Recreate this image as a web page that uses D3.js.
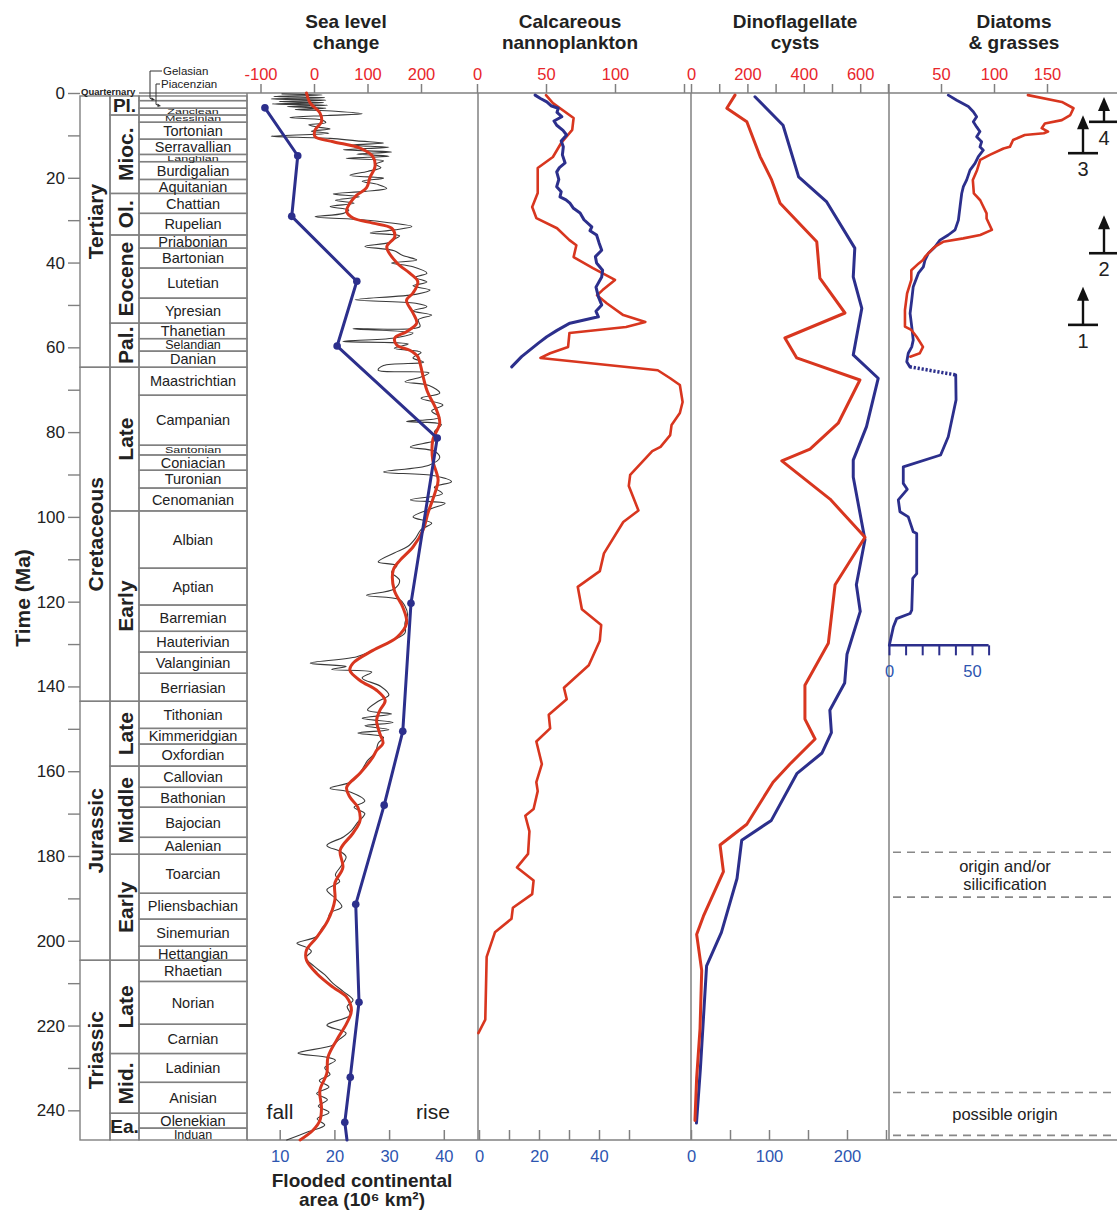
<!DOCTYPE html>
<html>
<head>
<meta charset="utf-8">
<script src="https://cdn.jsdelivr.net/npm/d3@7"></script>
<style>
body { margin: 0; background: #fff; }
svg text { font-family: "Liberation Sans", Arial, Helvetica, sans-serif; }
</style>
</head>
<body>
<script>
// ---------- data (age in Ma) ----------
const timeMajor = [0, 20, 40, 60, 80, 100, 120, 140, 160, 180, 200, 220, 240];
const timeMinor = [10, 30, 50, 70, 90, 110, 130, 150, 170, 190, 210, 230];

const eras = [["Tertiary", 0.7, 64.7], ["Cretaceous", 64.7, 143.5], ["Jurassic", 143.5, 204.6], ["Triassic", 204.6, 247]];

const epochs = [["Pl.", 0.7, 5.2], ["Mioc.", 5.2, 23.7], ["Ol.", 23.7, 33.5], ["Eocene", 33.5, 54.3],
  ["Pal.", 54.3, 64.7], ["Late", 64.7, 98.6], ["Early", 98.6, 143.5], ["Late", 143.5, 158.8],
  ["Middle", 158.8, 179.6], ["Early", 179.6, 204.6], ["Late", 204.6, 226.6], ["Mid.", 226.6, 240.7], ["Ea.", 240.7, 247]];

const leaderStages = [["Gelasian", 0.7, 1.8], ["Piacenzian", 1.8, 3.6]];

const stages = [["Zanclean", 3.6, 5.2], ["Messinian", 5.2, 6.9], ["Tortonian", 6.9, 10.9], ["Serravallian", 10.9, 14.5],
  ["Langhian", 14.5, 16.2], ["Burdigalian", 16.2, 20.4], ["Aquitanian", 20.4, 23.7], ["Chattian", 23.7, 28.4],
  ["Rupelian", 28.4, 33.5], ["Priabonian", 33.5, 36.6], ["Bartonian", 36.6, 41.3], ["Lutetian", 41.3, 48.4],
  ["Ypresian", 48.4, 54.3], ["Thanetian", 54.3, 57.95], ["Selandian", 57.95, 60.9], ["Danian", 60.9, 64.7],
  ["Maastrichtian", 64.7, 71.3], ["Campanian", 71.3, 83.1], ["Santonian", 83.1, 85.4], ["Coniacian", 85.4, 89.0],
  ["Turonian", 89.0, 93.2], ["Cenomanian", 93.2, 98.6], ["Albian", 98.6, 112.1], ["Aptian", 112.1, 120.8],
  ["Barremian", 120.8, 127.0], ["Hauterivian", 127.0, 131.9], ["Valanginian", 131.9, 136.9], ["Berriasian", 136.9, 143.5],
  ["Tithonian", 143.5, 149.9], ["Kimmeridgian", 149.9, 153.6], ["Oxfordian", 153.6, 158.8], ["Callovian", 158.8, 163.8],
  ["Bathonian", 163.8, 168.5], ["Bajocian", 168.5, 175.6], ["Aalenian", 175.6, 179.6], ["Toarcian", 179.6, 188.8],
  ["Pliensbachian", 188.8, 194.9], ["Sinemurian", 194.9, 201.3], ["Hettangian", 201.3, 204.6], ["Rhaetian", 204.6, 209.6],
  ["Norian", 209.6, 219.7], ["Carnian", 219.7, 226.6], ["Ladinian", 226.6, 233.4], ["Anisian", 233.4, 240.7],
  ["Olenekian", 240.7, 244.2], ["Induan", 244.2, 247]];

// sea level (m), short-term curve
const seaShort = [[0.2,-60],[0.5,15],[0.8,-75],[1.1,20],[1.4,-80],[1.7,22],[2.0,-65],[2.3,18],[2.6,-78],[2.9,25],
  [3.2,-50],[3.6,22],[3.9,-35],[4.3,40],[4.9,90],[5.3,25],[5.8,-45],[6.4,15],[7.0,22],[7.5,-10],[8.0,5],[8.5,30],
  [9.0,-5],[9.5,28],[10.2,-80],[10.7,30],[11.3,80],[11.8,130],[12.3,70],[12.8,140],[13.4,55],[13.9,145],[14.4,80],
  [14.9,140],[15.4,60],[16.0,130],[16.8,115],[17.6,125],[18.5,100],[19.4,67],[20.1,130],[20.8,90],[21.6,120],
  [22.5,136],[23.2,95],[23.8,36],[24.5,85],[25.3,40],[26.0,75],[26.8,30],[27.6,65],[28.4,55],[29.2,2],[29.9,90],
  [30.6,140],[31.5,183],[32.3,150],[33.0,105],[33.7,160],[34.5,150],[35.3,140],[36.2,95],[37.2,150],[38.3,165],
  [39.4,192],[40.1,145],[41.0,185],[42.5,211],[43.5,190],[44.6,211],[45.5,185],[46.5,217],[47.5,190],[48.8,77],
  [49.6,190],[50.4,211],[51.4,185],[52.4,220],[53.5,195],[55.1,198],[55.6,73],[56.6,185],[57.8,150],[58.6,54],
  [59.2,176],[60.2,150],[61.2,200],[62.5,185],[63.5,205],[64.3,130],[65.4,120],[66.0,215],[67.0,200],[68.1,170],
  [69.0,215],[70.8,235],[72.0,200],[73.6,241],[75.0,220],[76.5,235],[77.5,173],[78.2,238],[80.0,225],[81.5,235],
  [83.5,180],[84.5,225],[86.0,235],[87.8,215],[89.4,130],[90.3,225],[91.7,257],[93.0,225],[94.5,240],[96.0,180],
  [96.8,245],[98.0,220],[100.0,185],[101.5,220],[103.0,200],[105.0,190],[107.0,175],[108.5,150],[110.6,120],
  [111.5,155],[113.0,145],[115.0,160],[117.0,150],[118.5,98],[119.5,160],[121.0,170],[123.0,175],[125.0,170],
  [127.4,170],[129.5,140],[131.5,110],[133.0,80],[134.5,-7],[135.3,60],[136.0,33],[136.6,108],[138.0,90],
  [140.0,125],[142.0,140],[143.5,120],[145.6,100],[146.5,145],[147.5,90],[148.5,148],[149.3,95],[150.2,140],
  [151.0,82],[152.0,130],[153.4,120],[155.5,115],[157.5,100],[160.0,88],[162.5,70],[164.0,30],[165.0,70],
  [167.0,95],[168.5,75],[170.0,95],[172.0,82],[174.0,70],[175.5,55],[177.5,24],[179.0,50],[180.2,60],[182.5,50],
  [184.5,40],[186.0,48],[188.0,24],[190.0,40],[192.0,52],[193.5,30],[195.5,25],[197.0,15],[199.0,5],[200.6,-32],
  [201.5,-15],[202.5,-5],[204.0,-15],[206.0,0],[208.0,20],[210.0,35],[212.0,55],[214.0,73],[215.5,62],[217.5,68],
  [219.9,24],[221.8,60],[223.5,45],[224.6,36],[226.5,-30],[227.5,25],[228.2,40],[230.0,20],[231.5,30],[233.0,10],
  [234.5,28],[236.0,5],[237.5,25],[239.0,8],[240.5,28],[242.0,6],[243.5,20],[245.0,-10],[247,-51]];

// sea level (m), long-term curve
const seaLong = [[0,-14],[2.4,-7],[4.7,11],[6.8,14],[8.7,2],[10.3,2],[11.5,36],[13.0,86],[15.0,110],[17.4,114],
  [19.8,105],[22.4,98],[24.1,80],[26.0,67],[28.0,61],[29.5,73],[30.7,110],[31.9,145],[33.9,151],[36.3,136],
  [40.1,155],[42.5,179],[44.5,194],[47.2,185],[48.9,173],[51.9,185],[54.3,192],[56.3,173],[57.8,151],[59.5,155],
  [60.7,179],[62.2,194],[63.7,198],[70.1,211],[74.8,229],[77.9,235],[81.9,222],[86.6,222],[91.3,232],[94.4,226],
  [99.1,213],[103.1,204],[107.1,185],[110.2,161],[112.6,148],[117.3,150],[121.3,166],[125.1,173],[128.4,155],
  [131.5,110],[134.5,73],[136.2,67],[138.6,86],[140.9,117],[143.3,133],[145.7,123],[148.0,117],[151.1,123],
  [153.4,129],[155.1,117],[156.7,110],[160.5,86],[163.8,61],[166.1,67],[168.5,82],[171.6,86],[174.6,73],
  [178.6,49],[182.7,54],[186.4,39],[190.4,39],[195.2,26],[199.2,5],[202.2,-14],[204.6,-14],[207.7,5],[211.0,36],
  [213.3,61],[216.4,70],[219.5,61],[223.5,42],[227.5,26],[231.3,24],[235.3,11],[239.3,14],[242.4,11],[244.7,-2],[247,-26]];

// flooded continental area (10^6 km2)
const floodArea = [[3.5,7.3],[14.8,13.3],[29.1,12.2],[44.4,24.1],[59.7,20.5],[81.4,38.8],[120.4,34.0],[150.6,32.5],
  [168.0,29.1],[191.4,23.9],[214.5,24.5],[232.2,22.9],[242.8,21.9],[247,22.3]];

// calcareous nannoplankton
const nannoRed = [[0.5,50],[2.4,55],[5.9,70],[8.7,69],[11.8,61],[15.1,55],[17.7,44],[23.6,44],[26.9,40],[29.5,43],
  [31.9,58],[34.7,67],[35.9,72],[38.7,70],[41.3,84],[44.1,100],[46.5,91],[47.7,87],[49.6,94],[52.4,106],[54.0,122],
  [55.2,108],[56.6,67],[59.9,66],[61.4,53],[62.5,46],[65.4,131],[67.3,140],[68.9,147],[72.9,149],[75.5,147],
  [78.3,141],[80.7,140],[83.5,133],[84.5,127],[90.1,111],[92.7,110],[98.5,117],[101.2,106],[108.6,92],[112.8,89],
  [116.5,73],[121.8,76],[125.5,90],[129.2,89],[135.0,81],[140.3,63],[143.0,65],[146.7,52],[149.9,53],[153.0,43],
  [158.3,47],[162.6,43],[164.7,44],[168.9,41],[170.5,35],[174.2,38],[179.5,37],[182.7,29],[185.8,41],[189.0,40],
  [192.2,26],[194.8,25],[198.0,13],[203.8,7],[218.6,6],[221.8,1]];
const nannoBlue = [[0.5,18.7],[1.3,20.5],[2.1,22.6],[3.0,24.0],[3.6,26.4],[4.6,26.0],[5.6,27.6],[6.6,25.0],[7.6,25.9],
  [8.8,28.0],[9.9,29.2],[11.3,27.4],[12.7,28.1],[14.6,27.8],[16.5,28.7],[17.6,26.8],[18.6,25.9],[20.4,26.6],
  [22.1,25.9],[23.3,27.4],[24.5,27],[25.2,29.0],[26.0,30.3],[27.2,31.5],[28.3,33.7],[29.9,35.0],[31.6,37.6],
  [32.5,37.0],[33.5,39.2],[35.3,40.0],[37.1,40.9],[38.6,38.8],[40.1,39.2],[41.8,41.2],[43.4,40.9],[45.8,39.0],
  [48.1,39.8],[50.0,40.9],[51.5,39.0],[52.8,39.8],[54.3,30.3],[56.0,26.0],[57.5,22.6],[59.0,19.8],[60.6,17],
  [62.2,14.2],[64.6,10.9]];

// dinoflagellate cysts
const dinoRed = [[0.5,156],[3.6,127],[6.8,198],[15.0,245],[20.5,286],[26.0,316],[35.1,446],[43.7,457],[51.9,546],
  [57.8,333],[62.5,375],[67.7,599],[77.9,522],[84.0,422],[86.8,322],[95.8,493],[104.8,617],[116.0,511],[129.8,487],
  [139.7,404],[147.7,404],[152.4,440],[158.3,351],[162.6,291],[172.5,198],[177.4,103],[183.7,115],[194.2,44],
  [198.5,20],[207.0,38],[220.8,32],[232.4,20],[242.4,14]];
const dinoBlue = [[0.9,82],[7.6,118],[19.8,138],[25.7,174],[36.6,210],[43.4,208],[50.8,219],[61.8,208],[67.3,240],
  [78.7,225],[86.6,208],[90.6,208],[105.4,223],[116.0,212],[122.3,217],[132.4,200],[139.2,197],[145.6,178],
  [150.9,180],[155.7,168],[160.5,136],[171.6,103],[176.3,65],[185.3,59],[198.0,39],[205.9,20],[230.3,12],[243.0,7]];

// diatoms & grasses
const diaRed = [[0.5,132],[2.1,164],[3.6,175],[5.2,172],[6.4,164],[7.2,148],[8.3,145],[9.1,151],[9.5,147],[9.9,129],
  [11.1,118],[12.7,115],[13.1,109],[14.6,96],[15.8,87],[18.2,84],[20.5,80],[23.7,81],[25.3,87],[28.4,93],[29.6,93],
  [32.3,98],[33.5,87],[34.3,71],[35.1,52],[36.3,44],[38.6,35],[39.4,33],[40.2,29],[41.8,22],[44.1,22],[47.3,18],
  [51.2,16],[55.1,16],[55.9,22],[57.5,27],[59.9,33],[61.4,30],[62.2,21]];
const diaBlueUpper = [[0.5,35.7],[1.7,40.8],[3.2,47.8],[4.4,50.8],[5.6,52.8],[6.8,50.8],[8.0,52.8],[9.1,54.8],
  [10.3,52.8],[11.5,55.8],[12.7,54.8],[13.5,56.8],[15.0,53.8],[16.6,51.8],[18.2,48.8],[20.5,46.8],[22.1,44.8],
  [23.7,43.8],[26.8,42.8],[30.0,41.8],[32.3,39.8],[33.5,35.7],[34.7,30.7],[36.3,27.7],[37.8,23.7],[39.4,21.7],
  [41.0,20.7],[42.5,17.7],[45.7,14.6],[48.8,13.7],[52.0,12.7],[55.1,13.7],[58.3,14.6],[59.9,13.7],[61.4,11.6],
  [63.4,10.7],[64.6,12.5]];
const diaBlueLower = [[66.5,40.2],[72.4,40.4],[77.2,37.8],[81.1,35.7],[85.4,31.1],[88.2,8.6],[92.1,8.6],[93.5,11],
  [96.0,5.6],[98.8,6.6],[100.0,11.6],[103.5,14.6],[103.9,16.7],[113.4,16.7],[114.5,14.3],[122.0,13.7],[122.8,12.7],
  [124.0,4.6],[126.0,2.6],[130.3,0.2]];

const diatomEvents = [["1", 54.7], ["2", 37.8], ["3", 14.2], ["4", 6.8]];
const originBands = [[["origin and/or", "silicification"], 179.1, 189.7], [["possible origin"], 235.8, 245.9]];

const panelTitles = [["Sea level", "change"], ["Calcareous", "nannoplankton"], ["Dinoflagellate", "cysts"], ["Diatoms", "& grasses"]];

const seaTopTicks = [-100, 0, 100, 200];
const floodTicks = [10, 20, 30, 40];
const nanTopTicks = [0, 50, 100, 150], nanTopLabels = [0, 50, 100];
const nanBotTicks = [0, 10, 20, 30, 40, 50], nanBotLabels = [0, 20, 40];
const dinTopTicks = [0, 100, 200, 300, 400, 500, 600, 700], dinTopLabels = [0, 200, 400, 600];
const dinBotTicks = [0, 50, 100, 150, 200, 250], dinBotLabels = [0, 100, 200];
const diaTopTicks = [0, 50, 100, 150], diaTopLabels = [50, 100, 150];
const diaBotTicks = [0, 10, 20, 30, 40, 50, 60], diaBotLabels = [0, 50];

// ---------- layout ----------
const W = 1117, H = 1210;
const RED = "#d8361f", NAVY = "#2c2f8c", LRED = "#e8262a", LBLUE = "#2d55b0", GREY = "#808080";
const yTop = 93, yBot = 1140;

const svg = d3.select("body").append("svg").attr("width", W).attr("height", H);
const y = d3.scaleLinear().domain([0, 247]).range([yTop, yBot]);

const seaX = d3.scaleLinear().domain([-100, 200]).range([260.5, 421]);
const floodX = d3.scaleLinear().domain([10, 40]).range([279.7, 443.8]);
const nanTopX = d3.scaleLinear().domain([0, 150]).range([477, 684]);
const nanBotX = d3.scaleLinear().domain([0, 60]).range([479, 659]);
const dinTopX = d3.scaleLinear().domain([0, 700]).range([691, 888.4]);
const dinBotX = d3.scaleLinear().domain([0, 250]).range([691, 886]);
const diaTopX = d3.scaleLinear().domain([0, 150]).range([888, 1047]);
const diaBotX = d3.scaleLinear().domain([0, 60]).range([889, 988.6]);

// titles
const titleX = [346, 570, 795, 1014];
panelTitles.forEach((t, i) => {
    t.forEach((line, j) => {
        svg.append("text").attr("x", titleX[i]).attr("y", 28 + j * 21)
            .attr("text-anchor", "middle").style("font-size", "19px").style("font-weight", "bold")
            .attr("fill", "#222").text(line);
    });
});

// time axis
const yAxisG = svg.append("g").attr("transform", "translate(80,0)")
    .call(d3.axisLeft(y).tickValues(timeMajor.concat(timeMinor)).tickSize(12).tickPadding(3)
        .tickFormat(d => timeMajor.includes(d) ? d : ""));
yAxisG.select(".domain").remove();
yAxisG.selectAll(".tick line").attr("stroke", GREY).attr("stroke-width", 1.4);
yAxisG.selectAll(".tick text").attr("fill", "#222").style("font-size", "17px");

svg.append("text").attr("transform", "translate(30,598) rotate(-90)").attr("text-anchor", "middle")
    .style("font-size", "21px").style("font-weight", "bold").attr("fill", "#222").text("Time (Ma)");

// stratigraphic column
const col = svg.append("g").attr("fill", "none").attr("stroke", GREY).attr("stroke-width", 1.4);
eras.forEach(e => col.append("rect").attr("x", 80).attr("y", y(e[1])).attr("width", 30).attr("height", y(e[2]) - y(e[1])));
epochs.forEach(e => col.append("rect").attr("x", 110).attr("y", y(e[1])).attr("width", 29).attr("height", y(e[2]) - y(e[1])));
stages.concat(leaderStages).forEach(s => col.append("rect").attr("x", 139).attr("y", y(s[1])).attr("width", 108).attr("height", y(s[2]) - y(s[1])));
col.append("line").attr("x1", 139).attr("x2", 247).attr("y1", y(0)).attr("y2", y(0));

eras.forEach((e, i) => {
    const cy = (y(e[1]) + y(e[2])) / 2 - (i === 0 ? 10 : 0);
    svg.append("text").attr("transform", `translate(95,${cy}) rotate(-90)`).attr("text-anchor", "middle")
        .attr("dy", "0.36em").style("font-size", "21px").style("font-weight", "bold").attr("fill", "#222").text(e[0]);
});
epochs.forEach(e => {
    const cy = (y(e[1]) + y(e[2])) / 2;
    const h = y(e[2]) - y(e[1]);
    const t = svg.append("text").attr("text-anchor", "middle").attr("dy", "0.36em")
        .style("font-weight", "bold").attr("fill", "#222").text(e[0]);
    if (h < 30) t.attr("x", 124.5).attr("y", cy).style("font-size", "19px");
    else t.attr("transform", `translate(125,${cy}) rotate(-90)`).style("font-size", "21px");
});
stages.forEach(s => {
    const h = y(s[2]) - y(s[1]);
    const cy = (y(s[1]) + y(s[2])) / 2;
    // thin stages get a vertically squashed label, as in the printed column
    const sy = h < 8 ? 0.62 : (h < 10 ? 0.72 : 1);
    svg.append("text").attr("transform", `translate(193,${cy}) scale(1,${sy})`).attr("dy", "0.36em")
        .attr("text-anchor", "middle").style("font-size", h < 13 ? "12.5px" : "14.5px")
        .attr("fill", "#222").text(s[0]);
});
svg.append("text").attr("x", 81).attr("y", 94.5).style("font-size", "9.5px").style("font-weight", "bold")
    .attr("fill", "#222").text("Quarternary");

// leader labels for thin stages
const leadX = [150, 156], leadY = [71, 84], textX = [163, 161];
leaderStages.forEach((s, i) => {
    const ty = (y(s[1]) + y(s[2])) / 2;
    svg.append("path").attr("d", `M${textX[i] - 1},${leadY[i]}H${leadX[i]}V${ty}L${leadX[i] + 3},${ty + 1}`)
        .attr("fill", "none").attr("stroke", "#333").attr("stroke-width", 1);
    svg.append("path").attr("d", `M${leadX[i] + 5},${ty + 1.5}l-3.5,-2.5l0,3.5z`).attr("fill", "#333");
    svg.append("text").attr("x", textX[i]).attr("y", leadY[i]).attr("dy", "0.36em")
        .style("font-size", "11.5px").attr("fill", "#222").text(s[0]);
});

// frame lines
const frame = svg.append("g").attr("stroke", GREY).attr("stroke-width", 1.5);
frame.append("line").attr("x1", 247).attr("x2", W).attr("y1", yTop).attr("y2", yTop);
frame.append("line").attr("x1", 247).attr("x2", W).attr("y1", yBot).attr("y2", yBot);
[247, 478, 691, 889].forEach(x => frame.append("line").attr("x1", x).attr("x2", x).attr("y1", yTop).attr("y2", yBot));

// axes
function axis(gen, scale, ticks, labels, yPos, color, size, pad) {
    const g = svg.append("g").attr("transform", `translate(0,${yPos})`)
        .call(gen(scale).tickValues(ticks).tickSize(size).tickPadding(pad)
            .tickFormat(d => labels.includes(d) ? String(d) : ""));
    g.select(".domain").remove();
    g.selectAll(".tick line").attr("stroke", GREY).attr("stroke-width", 1.5);
    g.selectAll(".tick text").attr("fill", color).style("font-size", "16.5px");
    return g;
}
axis(d3.axisTop, seaX, seaTopTicks, seaTopTicks, yTop, LRED, 9, 4);
axis(d3.axisTop, nanTopX, nanTopTicks, nanTopLabels, yTop, LRED, 9, 4);
axis(d3.axisTop, dinTopX, dinTopTicks, dinTopLabels, yTop, LRED, 9, 4);
axis(d3.axisTop, diaTopX, diaTopTicks, diaTopLabels, yTop, LRED, 9, 4);
axis(d3.axisBottom, floodX, floodTicks, floodTicks, yBot, LBLUE, -10, 10);
axis(d3.axisBottom, nanBotX, nanBotTicks, nanBotLabels, yBot, LBLUE, -10, 10);
axis(d3.axisBottom, dinBotX, dinBotTicks, dinBotLabels, yBot, LBLUE, -10, 10);
const diaAxisY = y(130.3);
const diaAx = axis(d3.axisBottom, diaBotX, diaBotTicks, diaBotLabels, diaAxisY, LBLUE, 10, 10);
diaAx.selectAll(".tick line").attr("stroke", NAVY).attr("stroke-width", 2);
svg.append("line").attr("x1", diaBotX(0)).attr("x2", diaBotX(60)).attr("y1", diaAxisY).attr("y2", diaAxisY)
    .attr("stroke", NAVY).attr("stroke-width", 2.5);

// bottom label
svg.append("text").attr("x", 362).attr("y", 1187).attr("text-anchor", "middle").style("font-size", "19px")
    .style("font-weight", "bold").attr("fill", "#222").text("Flooded continental");
svg.append("text").attr("x", 362).attr("y", 1206).attr("text-anchor", "middle")
    .style("font-size", "19px").style("font-weight", "bold").attr("fill", "#222").text("area (10\u2076 km\u00b2)");

svg.append("text").attr("x", 280).attr("y", 1111).attr("dy", "0.36em").attr("text-anchor", "middle")
    .style("font-size", "21px").attr("fill", "#222").text("fall");
svg.append("text").attr("x", 433).attr("y", 1111).attr("dy", "0.36em").attr("text-anchor", "middle")
    .style("font-size", "21px").attr("fill", "#222").text("rise");

// series
function series(data, xs, color, width, curve) {
    const line = d3.line().x(d => xs(d[1])).y(d => y(d[0])).curve(curve || d3.curveLinear);
    return svg.append("path").datum(data).attr("d", line).attr("fill", "none").attr("stroke", color)
        .attr("stroke-width", width).attr("stroke-linejoin", "round").attr("stroke-linecap", "round");
}

series(seaShort, seaX, "#3a3a3a", 1.1, d3.curveCatmullRom);
series(seaLong, seaX, RED, 3, d3.curveCatmullRom);
series(floodArea, floodX, NAVY, 3);
svg.selectAll("circle.fl").data(floodArea.slice(0, -1)).enter().append("circle")
    .attr("cx", d => floodX(d[1])).attr("cy", d => y(d[0])).attr("r", 3.8).attr("fill", NAVY);

series(nannoRed, nanTopX, RED, 2.6);
series(nannoBlue, nanBotX, NAVY, 3);
series(dinoBlue, dinBotX, NAVY, 3);
series(dinoRed, dinTopX, RED, 3);
series(diaBlueUpper, diaBotX, NAVY, 2.8);
series(diaBlueLower, diaBotX, NAVY, 2.8);
series(diaRed, diaTopX, RED, 2.6);
const a = diaBlueUpper[diaBlueUpper.length - 1], b = diaBlueLower[0];
svg.append("line").attr("x1", diaBotX(a[1])).attr("y1", y(a[0])).attr("x2", diaBotX(b[1])).attr("y2", y(b[0]))
    .attr("stroke", NAVY).attr("stroke-width", 3.5).attr("stroke-dasharray", "2.2,1.8");

// events (arrows)
diatomEvents.forEach((ev, i) => {
    const cx = i % 2 === 0 ? 1083 : 1104;
    const by = y(ev[1]);
    const ty = Math.max(by - 38, yTop + 4);
    const g = svg.append("g");
    g.append("line").attr("x1", cx - 15).attr("x2", cx + 15).attr("y1", by).attr("y2", by)
        .attr("stroke", "#111").attr("stroke-width", 2.6);
    g.append("line").attr("x1", cx).attr("x2", cx).attr("y1", by).attr("y2", ty + 10)
        .attr("stroke", "#111").attr("stroke-width", 2.4);
    g.append("path").attr("d", `M${cx},${ty}L${cx - 6},${ty + 14}L${cx + 6},${ty + 14}Z`).attr("fill", "#111");
    g.append("text").attr("x", cx).attr("y", by + 16).attr("dy", "0.36em").attr("text-anchor", "middle")
        .style("font-size", "20px").attr("fill", "#222").text(ev[0]);
});

// origin bands
originBands.forEach(bd => {
    [bd[1], bd[2]].forEach(age => {
        svg.append("line").attr("x1", 893).attr("x2", W).attr("y1", y(age)).attr("y2", y(age))
            .attr("stroke", "#888").attr("stroke-width", 1.6).attr("stroke-dasharray", "8,6");
    });
    const mid = (y(bd[1]) + y(bd[2])) / 2;
    const n = bd[0].length;
    bd[0].forEach((t, j) => {
        svg.append("text").attr("x", 1005).attr("y", mid + (j - (n - 1) / 2) * 18).attr("dy", "0.36em")
            .attr("text-anchor", "middle").style("font-size", "16.5px").attr("fill", "#222").text(t);
    });
});
</script>
</body>
</html>
